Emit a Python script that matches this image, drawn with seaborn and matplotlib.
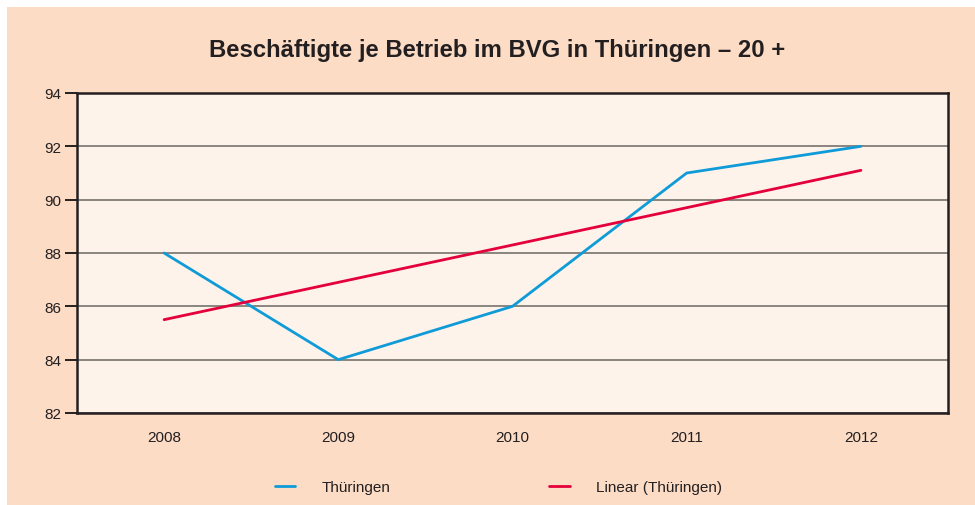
import matplotlib
matplotlib.use('Agg')
import matplotlib.pyplot as plt
import seaborn as sns
import pandas as pd
from matplotlib.patches import Rectangle

years = ['2008', '2009', '2010', '2011', '2012']
thueringen = [88, 84, 86, 91, 92]
linear_trend = [85.5, 86.9, 88.3, 89.7, 91.1]

outer_bg = '#fcdcc5'
inner_bg = '#fdf3eb'
dark = '#231f20'
blue = '#0e9bd7'
red = '#e4003a'

df = pd.DataFrame({'Jahr': years, 'Thüringen': thueringen, 'Linear (Thüringen)': linear_trend})

sns.set_style('white')
plt.rcParams['font.family'] = ['Liberation Sans', 'DejaVu Sans']

fig = plt.figure(figsize=(9.75, 5.06), dpi=100, facecolor='white')
fig.patches.append(Rectangle((7 / 975, 0), 1, 1 - 8 / 506, transform=fig.transFigure,
                             facecolor=outer_bg, edgecolor='none', zorder=-10))
ax = fig.add_axes([77 / 975, 1 - 414 / 506, (948 - 77) / 975, (414 - 94) / 506])
ax.set_facecolor(inner_bg)

sns.lineplot(data=df, x='Jahr', y='Thüringen', ax=ax, color=blue, linewidth=2,
             label='Thüringen', sort=False)
sns.lineplot(data=df, x='Jahr', y='Linear (Thüringen)', ax=ax, color=red, linewidth=2,
             label='Linear (Thüringen)', sort=False)

ax.set_xlim(-0.5, 4.5)
ax.set_ylim(82, 94)
ax.set_yticks(range(82, 95, 2))
ax.yaxis.grid(True, color='#8a8580', linewidth=1.4)
ax.set_axisbelow(True)
ax.set_xlabel('')
ax.set_ylabel('')
for s in ax.spines.values():
    s.set_visible(True)
    s.set_color(dark)
    s.set_linewidth(1.8)

ax.tick_params(axis='y', which='both', left=True, length=9, width=1.4, color=dark,
               labelsize=11, pad=2, labelcolor=dark)
ax.tick_params(axis='x', bottom=False, labelsize=11, pad=9, labelcolor=dark)

ax.legend_.remove()
handles, labels = ax.get_legend_handles_labels()
fig.legend(handles, labels, loc='center', bbox_to_anchor=(0.511, 1 - 488 / 506), ncol=2,
           frameon=False, fontsize=11, handlelength=1.35, handletextpad=1.7,
           columnspacing=10.4, labelcolor=dark)

fig.text(0.51, 1 - 50 / 506, 'Beschäftigte je Betrieb im BVG in Thüringen – 20 +',
         ha='center', va='center', fontsize=17.2, fontweight='bold', color=dark)

fig.savefig('out.png', dpi=100, facecolor=fig.get_facecolor())
